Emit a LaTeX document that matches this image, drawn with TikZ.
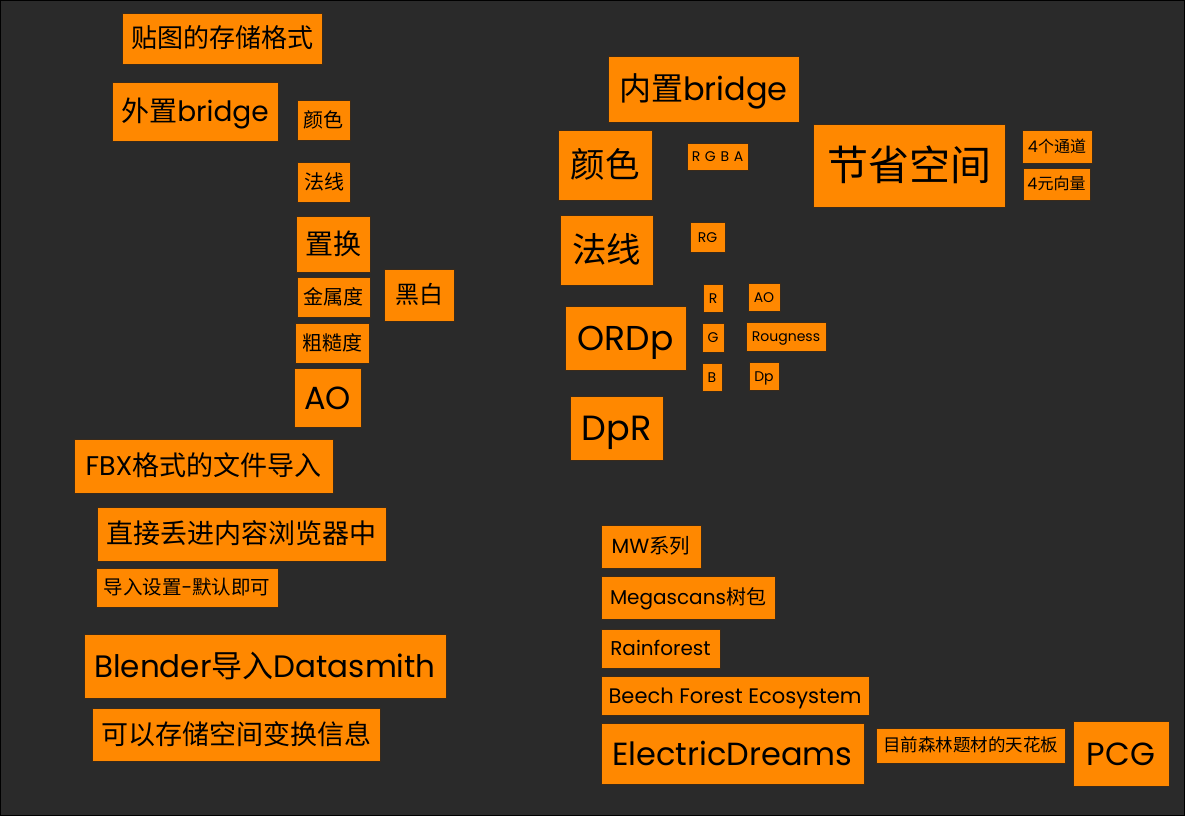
\documentclass[tikz,border=0pt]{standalone}
\usepackage{fontspec}
\setmainfont{Poppins}
\newfontfamily\cjk{Noto Sans CJK SC}
\definecolor{bgcol}{HTML}{2A2A2A}
\definecolor{boxcol}{HTML}{FF8800}
\definecolor{edgecol}{HTML}{3A2A1A}
\tikzset{
    blk/.style={draw=edgecol, fill=boxcol, line width=0.9pt, inner sep=0pt, align=center, text=black},
    fs/.style={font=\fontsize{#1}{#1}\selectfont, text height={0.72*#1}, text depth=0pt}
}
\begin{document}
\begin{tikzpicture}[x=1pt, y=-1pt]
    % 背景
    \fill[bgcol] (0,0) rectangle (1185,816);
    \draw[black, line width=1pt] (0.5,0.5) rectangle (1184.5,815.5);
    \useasboundingbox (0,0) rectangle (1185,816);

    % 左侧：外置bridge
    \node[blk, fs=26, minimum width=200, minimum height=51] (fmt) at (222,38.5) {\cjk 贴图的存储格式};
    \node[blk, fs=28, minimum width=166, minimum height=59] (outb) at (195,111.5) {{\cjk 外置}bridge};
    \node[blk, fs=20, minimum width=53, minimum height=40] (ocol) at (323.5,120) {\cjk 颜色};
    \node[blk, fs=20, minimum width=53, minimum height=40] (onrm) at (324,182) {\cjk 法线};
    \node[blk, fs=28, minimum width=74, minimum height=56] (odisp) at (333,244) {\cjk 置换};
    \node[blk, fs=20, minimum width=73, minimum height=40] (omet) at (333.5,297) {\cjk 金属度};
    \node[blk, fs=20, minimum width=74, minimum height=40] (orgh) at (332,343) {\cjk 粗糙度};
    \node[blk, fs=32, minimum width=67, minimum height=59] (oao) at (327.5,397.5) {AO};
    \node[blk, fs=24, minimum width=70, minimum height=52] (bw) at (419,295) {\cjk 黑白};

    % 左侧：导入
    \node[blk, fs=27, minimum width=259, minimum height=54] (fbx) at (203.5,466) {FBX{\cjk 格式的文件导入}};
    \node[blk, fs=27, minimum width=289, minimum height=54] (drop) at (241.5,534) {\cjk 直接丢进内容浏览器中};
    \node[blk, fs=19.5, minimum width=182, minimum height=39] (dflt) at (187,587.5) {{\cjk 导入设置}-{\cjk 默认即可}};
    \node[blk, fs=31, minimum width=362, minimum height=64] (blend) at (265,666) {Blender{\cjk 导入}Datasmith};
    \node[blk, fs=27, minimum width=288, minimum height=53] (xform) at (236,734.5) {\cjk 可以存储空间变换信息};

    % 右侧：内置bridge
    \node[blk, fs=32, minimum width=191, minimum height=66] (inb) at (703.5,89) {{\cjk 内置}bridge};
    \node[blk, fs=34.5, minimum width=94, minimum height=70] (icol) at (605,165) {\cjk 颜色};
    \node[blk, fs=14, minimum width=61, minimum height=27] (rgba) at (717.5,156.5) {R\,\,G\,\,B\,\,A};
    \node[blk, fs=41, minimum width=192, minimum height=83] (save) at (909,165.5) {\cjk 节省空间};
    \node[blk, fs=16, minimum width=70, minimum height=33] (ch4) at (1057,146.5) {4{\cjk 个通道}};
    \node[blk, fs=16, minimum width=67, minimum height=32] (vec4) at (1056.5,184) {4{\cjk 元向量}};
    \node[blk, fs=34.5, minimum width=93, minimum height=70] (inrm) at (606.5,250) {\cjk 法线};
    \node[blk, fs=14, minimum width=35, minimum height=30] (rg) at (707.5,237) {RG};
    \node[blk, fs=34.5, minimum width=121, minimum height=64] (ordp) at (625.5,338) {ORDp};
    \node[blk, fs=14, minimum width=20, minimum height=28] (chr) at (713,298) {R};
    \node[blk, fs=14, minimum width=22, minimum height=29] (chg) at (713,337.5) {G};
    \node[blk, fs=14, minimum width=20, minimum height=28] (chb) at (712,377) {B};
    \node[blk, fs=14, minimum width=32, minimum height=28] (iao) at (764,297) {AO};
    \node[blk, fs=14, minimum width=80, minimum height=29] (rough) at (786,336.5) {Rougness};
    \node[blk, fs=14, minimum width=30, minimum height=28] (dp) at (764,376) {Dp};
    \node[blk, fs=35, minimum width=93, minimum height=64] (dpr) at (616.5,428) {DpR};

    % 右下：资源
    \node[blk, fs=20.5, minimum width=100, minimum height=43] (mw) at (651,546.5) {MW{\cjk 系列}};
    \node[blk, fs=20, minimum width=174, minimum height=43] (mega) at (688,597.5) {Megascans{\cjk 树包}};
    \node[blk, fs=20, minimum width=119, minimum height=39] (rain) at (660.5,648.5) {Rainforest};
    \node[blk, fs=21, minimum width=268, minimum height=39] (beech) at (735,695.5) {Beech Forest Ecosystem};
    \node[blk, fs=32, minimum width=263, minimum height=61] (edream) at (732.5,753.5) {ElectricDreams};
    \node[blk, fs=17.5, minimum width=189, minimum height=35] (top) at (970.5,745.5) {\cjk 目前森林题材的天花板};
    \node[blk, fs=32, minimum width=96, minimum height=65] (pcg) at (1121,753.5) {PCG};
\end{tikzpicture}
\end{document}
